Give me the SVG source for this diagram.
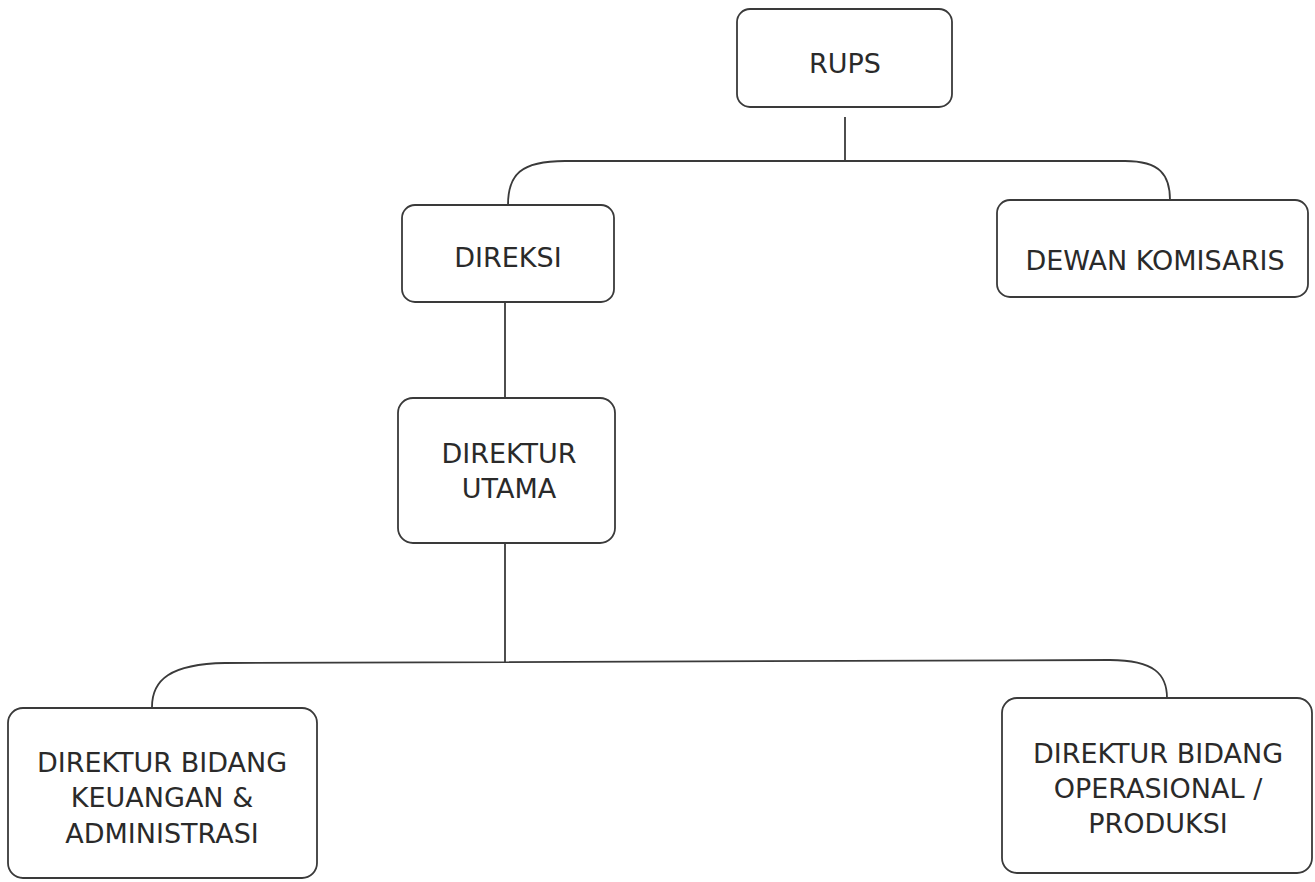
<svg xmlns="http://www.w3.org/2000/svg" width="1315" height="882" viewBox="0 0 1315 882">
<style>
.box{fill:#fff;stroke:#3a3a3a;stroke-width:1.8}
.lbl{font-family:"DejaVu Sans",Verdana,sans-serif;font-size:27px;fill:#2a2a2a;text-anchor:middle}
.con{fill:none;stroke:#3a3a3a;stroke-width:1.8}
</style>
<rect width="1315" height="882" fill="#fff"/>
<g id="connectors">
<path class="con" d="M845,117 L845,161"/>
<path class="con" d="M508,205 C508,175 520,161 565,161 L1125,161 C1160,161 1170,175 1170,200"/>
<path class="con" d="M505,302 L505,398"/>
<path class="con" d="M505,543 L505,662"/>
<path class="con" d="M152,707 C152,680 170,664 225,663 L1110,660 C1155,660 1167,675 1167,698"/>
</g>
<g id="rups">
<rect class="box" x="737" y="9" width="215" height="98" rx="13"/>
<text class="lbl" x="845" y="73">RUPS</text>
</g>
<g id="direksi">
<rect class="box" x="402" y="205" width="212" height="97" rx="13"/>
<text class="lbl" x="508" y="267">DIREKSI</text>
</g>
<g id="dewan-komisaris">
<rect class="box" x="997" y="200" width="311" height="97" rx="13"/>
<text class="lbl" x="1155" y="270">DEWAN KOMISARIS</text>
</g>
<g id="direktur-utama">
<rect class="box" x="398" y="398" width="217" height="145" rx="15"/>
<text class="lbl" x="509" y="463">DIREKTUR</text>
<text class="lbl" x="509" y="498">UTAMA</text>
</g>
<g id="direktur-keuangan">
<rect class="box" x="8" y="708" width="309" height="170" rx="15"/>
<text class="lbl" x="162" y="772">DIREKTUR BIDANG</text>
<text class="lbl" x="162" y="807">KEUANGAN &amp;</text>
<text class="lbl" x="162" y="843">ADMINISTRASI</text>
</g>
<g id="direktur-operasional">
<rect class="box" x="1002" y="698" width="310" height="175" rx="15"/>
<text class="lbl" x="1158" y="763">DIREKTUR BIDANG</text>
<text class="lbl" x="1158" y="798">OPERASIONAL /</text>
<text class="lbl" x="1158" y="833">PRODUKSI</text>
</g>
</svg>
